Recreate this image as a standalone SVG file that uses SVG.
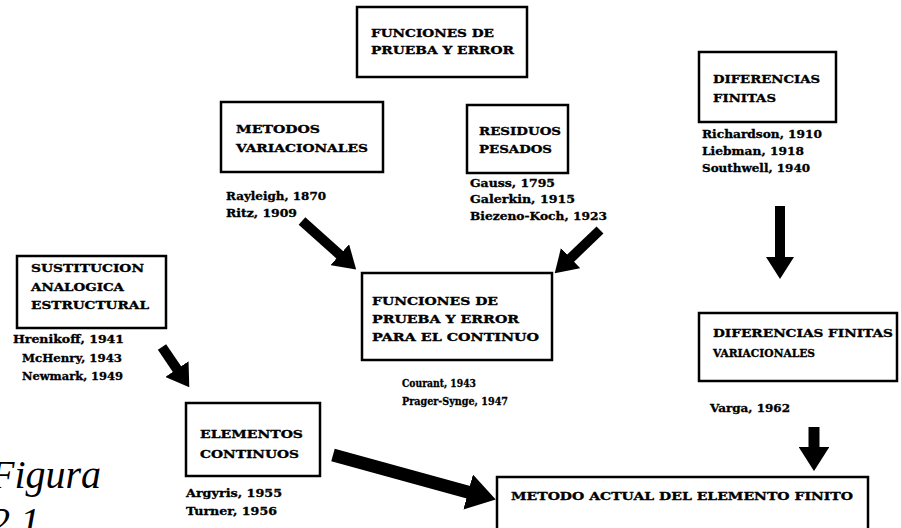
<svg xmlns="http://www.w3.org/2000/svg" width="901" height="528" viewBox="0 0 901 528">
  <style>
    .box { fill: #fff; stroke: #000; stroke-width: 2.5; }
    .t { font-family: "DejaVu Serif", "Liberation Serif", serif; font-weight: bold; font-size: 11.5px; fill: #000; stroke: #000; stroke-width: 0.35; }
    .lbl { font-family: "DejaVu Serif", "Liberation Serif", serif; font-weight: bold; font-size: 10.5px; fill: #000; stroke: #000; stroke-width: 0.3; }
    .shaft { stroke: #000; fill: none; stroke-linecap: butt; }
    .cap { font-family: "Liberation Serif", serif; font-style: italic; font-size: 40px; fill: #000; }
  </style>
  <defs>
    <marker id="head" viewBox="0 0 22 28" refX="1" refY="14" markerUnits="strokeWidth" markerWidth="2.2" markerHeight="2.8" orient="auto" preserveAspectRatio="none">
      <path d="M0,0 L22,14 L0,28 z" fill="#000"/>
    </marker>
  </defs>
  <rect width="901" height="528" fill="#fff"/>

  <!-- connectors: thick block arrows between the stages -->
  <g id="connectors">
    <line class="shaft" stroke-width="10" x1="302" y1="221" x2="340.5" y2="255.4" marker-end="url(#head)"/>
    <line class="shaft" stroke-width="10" x1="600" y1="230" x2="569.9" y2="258.8" marker-end="url(#head)"/>
    <line class="shaft" stroke-width="10" x1="780" y1="206" x2="780" y2="258" marker-end="url(#head)"/>
    <line class="shaft" stroke-width="10" x1="162" y1="347" x2="177.5" y2="369.9" marker-end="url(#head)"/>
    <line class="shaft" stroke-width="13" x1="333" y1="455" x2="469.4" y2="492.4" marker-end="url(#head)"/>
    <line class="shaft" stroke-width="11" x1="814" y1="427" x2="814" y2="448" marker-end="url(#head)"/>
  </g>

  <g id="n-top">
    <rect class="box" x="357" y="7" width="170" height="70"/>
    <text class="t" x="371" y="37" textLength="123" lengthAdjust="spacingAndGlyphs">FUNCIONES DE</text>
    <text class="t" x="371" y="54" textLength="143" lengthAdjust="spacingAndGlyphs">PRUEBA Y ERROR</text>
  </g>

  <g id="n-metodos">
    <rect class="box" x="221" y="102" width="162" height="70"/>
    <text class="t" x="236" y="133" textLength="84" lengthAdjust="spacingAndGlyphs">METODOS</text>
    <text class="t" x="236" y="152" textLength="132" lengthAdjust="spacingAndGlyphs">VARIACIONALES</text>
    <text class="lbl" x="226" y="200" textLength="100" lengthAdjust="spacingAndGlyphs">Rayleigh, 1870</text>
    <text class="lbl" x="226" y="217" textLength="71" lengthAdjust="spacingAndGlyphs">Ritz, 1909</text>
  </g>

  <g id="n-residuos">
    <rect class="box" x="467" y="105" width="101" height="68"/>
    <text class="t" x="479" y="135" textLength="82" lengthAdjust="spacingAndGlyphs">RESIDUOS</text>
    <text class="t" x="479" y="153" textLength="73" lengthAdjust="spacingAndGlyphs">PESADOS</text>
    <text class="lbl" x="470" y="187" textLength="85" lengthAdjust="spacingAndGlyphs">Gauss, 1795</text>
    <text class="lbl" x="470" y="203" textLength="105" lengthAdjust="spacingAndGlyphs">Galerkin, 1915</text>
    <text class="lbl" x="470" y="220" textLength="137" lengthAdjust="spacingAndGlyphs">Biezeno-Koch, 1923</text>
  </g>

  <g id="n-difinitas">
    <rect class="box" x="699" y="52" width="137" height="70"/>
    <text class="t" x="713" y="83" textLength="107" lengthAdjust="spacingAndGlyphs">DIFERENCIAS</text>
    <text class="t" x="713" y="102" textLength="63" lengthAdjust="spacingAndGlyphs">FINITAS</text>
    <text class="lbl" x="702" y="138" textLength="120" lengthAdjust="spacingAndGlyphs">Richardson, 1910</text>
    <text class="lbl" x="702" y="155" textLength="102" lengthAdjust="spacingAndGlyphs">Liebman, 1918</text>
    <text class="lbl" x="702" y="172" textLength="108" lengthAdjust="spacingAndGlyphs">Southwell, 1940</text>
  </g>

  <g id="n-sustitucion">
    <rect class="box" x="17" y="256" width="149" height="72"/>
    <text class="t" x="31" y="272" textLength="113" lengthAdjust="spacingAndGlyphs">SUSTITUCION</text>
    <text class="t" x="31" y="291" textLength="93" lengthAdjust="spacingAndGlyphs">ANALOGICA</text>
    <text class="t" x="31" y="309" textLength="118" lengthAdjust="spacingAndGlyphs">ESTRUCTURAL</text>
    <text class="lbl" x="13" y="343" textLength="111" lengthAdjust="spacingAndGlyphs">Hrenikoff, 1941</text>
    <text class="lbl" x="22" y="362" textLength="100" lengthAdjust="spacingAndGlyphs">McHenry, 1943</text>
    <text class="lbl" x="22" y="380" textLength="101" lengthAdjust="spacingAndGlyphs">Newmark, 1949</text>
  </g>

  <g id="n-continuo">
    <rect class="box" x="362" y="273" width="190" height="87"/>
    <text class="t" x="372" y="305" textLength="126" lengthAdjust="spacingAndGlyphs">FUNCIONES DE</text>
    <text class="t" x="372" y="323" textLength="147" lengthAdjust="spacingAndGlyphs">PRUEBA Y ERROR</text>
    <text class="t" x="372" y="341" textLength="167" lengthAdjust="spacingAndGlyphs">PARA EL CONTINUO</text>
    <text class="lbl" x="402" y="387" textLength="74" lengthAdjust="spacingAndGlyphs">Courant, 1943</text>
    <text class="lbl" x="402" y="405" textLength="106" lengthAdjust="spacingAndGlyphs">Prager-Synge, 1947</text>
  </g>

  <g id="n-dfvar">
    <rect class="box" x="699" y="313" width="198" height="68"/>
    <text class="t" x="713" y="337" textLength="180" lengthAdjust="spacingAndGlyphs">DIFERENCIAS FINITAS</text>
    <text class="t" x="713" y="357" textLength="102" lengthAdjust="spacingAndGlyphs">VARIACIONALES</text>
    <text class="lbl" x="710" y="412" textLength="80" lengthAdjust="spacingAndGlyphs">Varga, 1962</text>
  </g>

  <g id="n-elementos">
    <rect class="box" x="186" y="403" width="134" height="73"/>
    <text class="t" x="200" y="438" textLength="103" lengthAdjust="spacingAndGlyphs">ELEMENTOS</text>
    <text class="t" x="200" y="458" textLength="99" lengthAdjust="spacingAndGlyphs">CONTINUOS</text>
    <text class="lbl" x="186" y="497" textLength="96" lengthAdjust="spacingAndGlyphs">Argyris, 1955</text>
    <text class="lbl" x="186" y="515" textLength="91" lengthAdjust="spacingAndGlyphs">Turner, 1956</text>
  </g>

  <g id="n-actual">
    <rect class="box" x="497" y="477" width="371" height="70"/>
    <text class="t" x="511" y="500" textLength="342" lengthAdjust="spacingAndGlyphs">METODO ACTUAL DEL ELEMENTO FINITO</text>
  </g>

  <g id="caption">
    <text class="cap" x="-10" y="488">Figura</text>
    <text class="cap" x="-10" y="535">2.1</text>
  </g>
</svg>
